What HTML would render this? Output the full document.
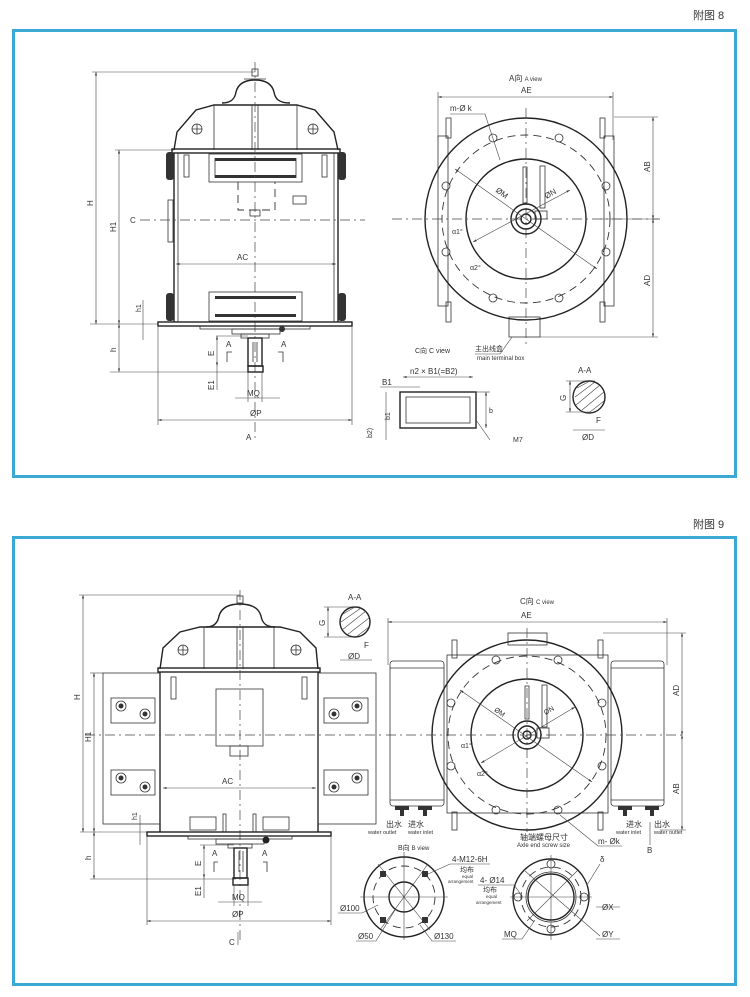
<!DOCTYPE html>
<html><head><meta charset="utf-8"><style>
html,body{margin:0;padding:0;background:#fff}
svg{display:block}
text{font-family:"Liberation Sans","Noto Sans CJK SC",sans-serif;fill:#333}
.m{stroke:#222;stroke-width:1.4;fill:none}
.t{stroke:#333;stroke-width:0.8;fill:none}
.d{stroke:#444;stroke-width:0.6;fill:none}
.c{stroke:#444;stroke-width:0.7;fill:none;stroke-dasharray:10 4 2 4}
.dash{stroke:#333;stroke-width:0.9;fill:none;stroke-dasharray:8 5}
</style></head><body>
<svg width="750" height="997" viewBox="0 0 750 997" xmlns="http://www.w3.org/2000/svg">
<defs>
<marker id="a" viewBox="0 0 10 10" refX="10" refY="5" markerWidth="6" markerHeight="6" orient="auto-start-reverse"><path d="M0,2 L10,5 L0,8z" fill="#333"/></marker>
</defs>
<text x="693" y="19" font-size="11">附图 8</text>
<rect x="13.5" y="30.5" width="722" height="446" fill="none" stroke="#3aa9d4" stroke-width="3"/>
<text x="693" y="528" font-size="11">附图 9</text>
<rect x="13.5" y="537.5" width="722" height="447" fill="none" stroke="#3aa9d4" stroke-width="3"/>

<!-- ===== FIG 8 LEFT ===== -->
<g>
<line class="d" x1="92" y1="72" x2="255" y2="72"/>
<line class="d" x1="96" y1="72" x2="96" y2="324" marker-start="url(#a)" marker-end="url(#a)"/>
<text x="0" y="0" font-size="8" transform="translate(93,206) rotate(-90)">H</text>
<line class="d" x1="115" y1="150" x2="174" y2="150"/>
<line class="d" x1="119" y1="150" x2="119" y2="324" marker-start="url(#a)" marker-end="url(#a)"/>
<text font-size="8" transform="translate(116,232) rotate(-90)">H1</text>
<line class="d" x1="90" y1="324" x2="158" y2="324"/>
<line class="d" x1="119" y1="324" x2="119" y2="372" marker-start="url(#a)" marker-end="url(#a)"/>
<text font-size="8" transform="translate(116,352) rotate(-90)">h</text>
<line class="d" x1="110" y1="372" x2="250" y2="372"/>
<line class="d" x1="143" y1="300" x2="143" y2="340"/>
<text font-size="7" transform="translate(141,312) rotate(-90)">h1</text>
<!-- knob & dome -->
<rect class="t" x="252" y="69" width="6" height="7"/>
<path class="m" d="M222,103 C232,103 235,98 236,92 C238,84 244,80 255,80 C266,80 272,84 274,92 C275,98 278,103 290,103"/>
<line class="t" x1="244" y1="79" x2="266" y2="79"/>
<!-- hood -->
<path class="m" d="M174,150 L177,132 L196,110 L214,105 L297,105 L315,110 L334,132 L338,150"/>
<line class="t" x1="214" y1="105" x2="214" y2="150"/><line class="t" x1="297" y1="105" x2="297" y2="150"/>
<line class="t" x1="252" y1="105" x2="252" y2="150"/><line class="t" x1="258" y1="105" x2="258" y2="150"/>
<circle class="t" cx="197" cy="129" r="5"/><circle class="t" cx="313" cy="129" r="5"/>
<path class="t" d="M192,129h10M197,124v10M308,129h10M313,124v10"/>
<!-- body -->
<rect class="m" x="172" y="149" width="168" height="4"/>
<line class="m" x1="174" y1="153" x2="174" y2="322"/><line class="m" x1="338" y1="153" x2="338" y2="322"/>
<line class="t" x1="178" y1="153" x2="178" y2="322"/><line class="t" x1="334" y1="153" x2="334" y2="322"/>
<rect x="166" y="152" width="8" height="28" rx="3" fill="#333"/><rect x="338" y="152" width="8" height="28" rx="3" fill="#333"/>
<rect x="166" y="293" width="8" height="28" rx="3" fill="#333"/><rect x="338" y="293" width="8" height="28" rx="3" fill="#333"/>
<rect class="t" x="168" y="200" width="5" height="42"/>
<rect class="t" x="184" y="155" width="5" height="22"/><rect class="t" x="322" y="155" width="5" height="22"/>
<rect class="t" x="209" y="154" width="93" height="28"/>
<rect x="215" y="158" width="81" height="3" fill="#333"/><rect x="215" y="175" width="81" height="3" fill="#333"/>
<line class="t" x1="215" y1="158" x2="215" y2="178"/><line class="t" x1="296" y1="158" x2="296" y2="178"/>
<path class="dash" d="M238,182 V210 H275 V182"/>
<rect class="t" x="250" y="210" width="10" height="6"/>
<rect class="t" x="293" y="196" width="13" height="8"/>
<line class="c" x1="140" y1="220" x2="365" y2="220"/>
<text x="130" y="223" font-size="8">C</text>
<line class="c" x1="255" y1="62" x2="255" y2="440"/>
<line class="d" x1="176" y1="264" x2="336" y2="264" marker-start="url(#a)" marker-end="url(#a)"/>
<text x="237" y="260" font-size="8">AC</text>
<rect class="t" x="209" y="292" width="93" height="29"/>
<rect x="215" y="296" width="81" height="3" fill="#333"/><rect x="215" y="314" width="81" height="3" fill="#333"/>
<!-- base -->
<rect class="m" x="158" y="322" width="194" height="4"/>
<rect class="t" x="200" y="326" width="110" height="3"/>
<rect class="t" x="232" y="329" width="48" height="5"/>
<circle cx="282" cy="329" r="3" fill="#333"/>
<rect class="t" x="241" y="334" width="28" height="4"/>
<rect class="m" x="248" y="338" width="14" height="28"/>
<line class="t" x1="253" y1="342" x2="253" y2="362"/><line class="t" x1="257" y1="342" x2="257" y2="362"/>
<rect class="m" x="248" y="366" width="15" height="6"/>
<line class="d" x1="158" y1="326" x2="158" y2="425"/><line class="d" x1="352" y1="326" x2="352" y2="425"/>
<line class="d" x1="158" y1="420" x2="352" y2="420" marker-start="url(#a)" marker-end="url(#a)"/>
<text x="250" y="416" font-size="8">ØP</text>
<line class="d" x1="235" y1="398" x2="280" y2="398"/>
<line class="d" x1="248" y1="372" x2="248" y2="402"/><line class="d" x1="262" y1="372" x2="262" y2="402"/>
<text x="247" y="396" font-size="8">MQ</text>
<line class="d" x1="216" y1="336" x2="248" y2="336"/>
<line class="d" x1="217" y1="336" x2="217" y2="366" marker-start="url(#a)" marker-end="url(#a)"/>
<line class="d" x1="217" y1="366" x2="217" y2="390" />
<text font-size="8" transform="translate(214,356) rotate(-90)">E</text>
<text font-size="8" transform="translate(214,390) rotate(-90)">E1</text>
<text x="226" y="347" font-size="8">A</text><text x="281" y="347" font-size="8">A</text>
<path class="t" d="M232,352h-5v10M278,352h5v10"/>
<text x="246" y="440" font-size="8">A</text>
</g>

<!-- ===== FIG 8 RIGHT (A view) ===== -->
<g>
<text x="509" y="81" font-size="8">A向 <tspan font-size="6">A view</tspan></text>
<text x="521" y="93" font-size="8">AE</text>
<line class="d" x1="438" y1="92" x2="438" y2="140"/><line class="d" x1="613" y1="92" x2="613" y2="140"/>
<line class="d" x1="438" y1="97" x2="613" y2="97" marker-start="url(#a)" marker-end="url(#a)"/>
<rect class="t" x="438" y="136" width="10" height="170"/><rect class="t" x="604" y="136" width="10" height="170"/>
<rect class="t" x="446" y="118" width="5" height="20"/><rect class="t" x="600" y="118" width="5" height="20"/>
<rect class="t" x="446" y="302" width="5" height="20"/><rect class="t" x="600" y="302" width="5" height="20"/>
<rect class="t" x="509" y="317" width="31" height="20" fill="#fff"/>
<circle class="m" cx="526" cy="219" r="101" fill="#fff"/>
<circle class="dash" cx="526" cy="219" r="84"/>
<circle class="m" cx="526" cy="219" r="60"/>
<g class="t" fill="#fff">
<circle cx="493" cy="138" r="4"/><circle cx="559" cy="138" r="4"/>
<circle cx="446" cy="186" r="4"/><circle cx="606" cy="186" r="4"/>
<circle cx="446" cy="252" r="4"/><circle cx="606" cy="252" r="4"/>
<circle cx="493" cy="298" r="4"/><circle cx="559" cy="298" r="4"/>
</g>
<line class="c" x1="392" y1="219" x2="660" y2="219"/>
<line class="c" x1="526" y1="108" x2="526" y2="345"/>
<circle class="m" cx="526" cy="219" r="15"/><circle class="m" cx="526" cy="219" r="10"/><circle class="m" cx="526" cy="219" r="5"/>
<rect class="t" x="523" y="167" width="4" height="36"/>
<rect class="t" x="540" y="166" width="5" height="42"/>
<rect class="t" x="535" y="211" width="12" height="8"/>
<line class="d" x1="455" y1="169" x2="597" y2="269" marker-start="url(#a)" marker-end="url(#a)"/>
<line class="d" x1="473" y1="242" x2="570" y2="190" marker-start="url(#a)" marker-end="url(#a)"/>
<text x="494" y="195" font-size="8" transform="rotate(35 500 195)">ØM</text>
<text x="546" y="197" font-size="8" transform="rotate(-30 550 197)">ØN</text>
<text x="452" y="234" font-size="7">α1°</text><text x="470" y="270" font-size="7">α2°</text>
<text x="450" y="111" font-size="8">m-Ø k</text>
<path class="d" d="M450,114 H485 L500,160"/>
<line class="d" x1="614" y1="117" x2="658" y2="117"/><line class="d" x1="540" y1="337" x2="658" y2="337"/>
<line class="d" x1="600" y1="219" x2="658" y2="219"/>
<line class="d" x1="653" y1="117" x2="653" y2="219" marker-start="url(#a)" marker-end="url(#a)"/>
<line class="d" x1="653" y1="219" x2="653" y2="337" marker-start="url(#a)" marker-end="url(#a)"/>
<text font-size="8" transform="translate(650,172) rotate(-90)">AB</text>
<text font-size="8" transform="translate(650,286) rotate(-90)">AD</text>
<text x="415" y="353" font-size="7">C向 C view</text>
<text x="475" y="351" font-size="7">主出线盒</text>
<text x="477" y="360" font-size="6">main terminal box</text>
<path class="d" d="M475,354 H500 L512,337"/>
<!-- C view rect -->
<text x="382" y="385" font-size="8">B1</text>
<text x="410" y="374" font-size="8">n2 × B1(=B2)</text>
<line class="d" x1="403" y1="377" x2="473" y2="377" marker-start="url(#a)" marker-end="url(#a)"/>
<line class="d" x1="380" y1="387" x2="420" y2="387"/>
<rect class="m" x="400" y="392" width="76" height="36"/>
<rect class="t" x="406" y="397" width="64" height="26"/>
<line class="d" x1="474" y1="392" x2="490" y2="392"/><line class="d" x1="486" y1="392" x2="486" y2="428" marker-start="url(#a)" marker-end="url(#a)"/>
<text x="489" y="413" font-size="7">b</text>
<line class="d" x1="386" y1="392" x2="386" y2="440"/>
<text font-size="7" transform="translate(390,420) rotate(-90)">b1</text>
<text font-size="7" transform="translate(372,438) rotate(-90)">b2)</text>
<line class="d" x1="476" y1="420" x2="490" y2="440"/>
<text x="513" y="442" font-size="7">M7</text>
<!-- A-A -->
<text x="578" y="373" font-size="8">A-A</text>
<circle class="m" cx="589" cy="397" r="16" fill="#e9e9e9"/>
<path class="d" d="M577,388 L590,381 M575,397 L595,382 M576,405 L600,385 M582,410 L604,392 M590,412 L604,401"/>
<line class="d" x1="566" y1="381" x2="595" y2="381"/><line class="d" x1="566" y1="412" x2="590" y2="412"/>
<line class="d" x1="570" y1="381" x2="570" y2="412" marker-start="url(#a)" marker-end="url(#a)"/>
<text font-size="8" transform="translate(566,401) rotate(-90)">G</text>
<text x="596" y="423" font-size="8">F</text>
<line class="d" x1="573" y1="430" x2="605" y2="430"/>
<text x="582" y="440" font-size="8">ØD</text>
</g>

<!-- ===== FIG 9 LEFT ===== -->
<g>
<line class="d" x1="79" y1="595" x2="240" y2="595"/>
<line class="d" x1="83" y1="595" x2="83" y2="832" marker-start="url(#a)" marker-end="url(#a)"/>
<text font-size="8" transform="translate(80,700) rotate(-90)">H</text>
<line class="d" x1="90" y1="673" x2="103" y2="673"/>
<line class="d" x1="94" y1="673" x2="94" y2="832" marker-start="url(#a)" marker-end="url(#a)"/>
<text font-size="8" transform="translate(91,742) rotate(-90)">H1</text>
<line class="d" x1="80" y1="832" x2="147" y2="832"/>
<line class="d" x1="94" y1="832" x2="94" y2="879" marker-start="url(#a)" marker-end="url(#a)"/>
<text font-size="8" transform="translate(91,860) rotate(-90)">h</text>
<line class="d" x1="90" y1="879" x2="236" y2="879"/>
<line class="d" x1="140" y1="815" x2="140" y2="845"/>
<text font-size="7" transform="translate(137,820) rotate(-90)">h1</text>
<rect class="t" x="237" y="596" width="6" height="7"/>
<path class="m" d="M206,627 C215,627 218,622 219,616 C221,609 227,604 240,604 C253,604 259,609 261,616 C262,622 265,627 275,627"/>
<path class="m" d="M160,669 L163,648 L180,632 L200,627 L280,627 L300,632 L316,648 L318,669"/>
<line class="t" x1="204" y1="627" x2="204" y2="669"/><line class="t" x1="274" y1="627" x2="274" y2="669"/>
<line class="t" x1="237" y1="627" x2="237" y2="669"/><line class="t" x1="243" y1="627" x2="243" y2="669"/>
<circle class="t" cx="183" cy="650" r="5"/><circle class="t" cx="296" cy="650" r="5"/>
<path class="t" d="M178,650h10M183,645v10M291,650h10M296,645v10"/>
<rect class="m" x="158" y="668" width="162" height="4"/>
<line class="m" x1="160" y1="672" x2="160" y2="832"/><line class="m" x1="318" y1="672" x2="318" y2="832"/>
<rect class="t" x="103" y="673" width="57" height="151"/><rect class="t" x="318" y="673" width="58" height="151"/>
<rect class="t" x="111" y="698" width="44" height="25"/><rect class="t" x="111" y="770" width="44" height="25"/>
<rect class="t" x="324" y="698" width="44" height="25"/><rect class="t" x="324" y="770" width="44" height="25"/>
<g fill="#333">
<circle cx="121" cy="706" r="2.5"/><circle cx="145" cy="714" r="2.5"/><circle cx="121" cy="778" r="2.5"/><circle cx="145" cy="787" r="2.5"/>
<circle cx="357" cy="706" r="2.5"/><circle cx="334" cy="714" r="2.5"/><circle cx="357" cy="778" r="2.5"/><circle cx="334" cy="787" r="2.5"/>
</g>
<g class="t">
<circle cx="121" cy="706" r="5"/><circle cx="145" cy="714" r="5"/><circle cx="121" cy="778" r="5"/><circle cx="145" cy="787" r="5"/>
<circle cx="357" cy="706" r="5"/><circle cx="334" cy="714" r="5"/><circle cx="357" cy="778" r="5"/><circle cx="334" cy="787" r="5"/>
</g>
<rect class="t" x="171" y="677" width="5" height="22"/><rect class="t" x="302" y="677" width="5" height="22"/>
<rect class="t" x="216" y="689" width="47" height="57"/>
<rect class="t" x="230" y="746" width="18" height="10"/>
<line class="c" x1="85" y1="735" x2="385" y2="735"/>
<line class="c" x1="240" y1="590" x2="240" y2="940"/>
<line class="d" x1="163" y1="788" x2="316" y2="788" marker-start="url(#a)" marker-end="url(#a)"/>
<text x="222" y="784" font-size="8">AC</text>
<rect class="t" x="190" y="817" width="26" height="13"/><rect class="t" x="263" y="817" width="26" height="13"/>
<rect class="t" x="223" y="814" width="3" height="18"/><rect class="t" x="253" y="814" width="3" height="18"/>
<rect class="m" x="147" y="832" width="184" height="4"/>
<rect class="t" x="188" y="836" width="104" height="3"/>
<rect class="t" x="216" y="839" width="48" height="5"/>
<circle cx="266" cy="840" r="3.5" fill="#222"/>
<rect class="t" x="228" y="844" width="24" height="4"/>
<rect class="m" x="234" y="848" width="13" height="30"/>
<line class="t" x1="239" y1="851" x2="239" y2="872"/><line class="t" x1="243" y1="851" x2="243" y2="872"/>
<rect class="m" x="233" y="878" width="15" height="7"/>
<line class="d" x1="147" y1="836" x2="147" y2="925"/><line class="d" x1="331" y1="836" x2="331" y2="925"/>
<line class="d" x1="147" y1="921" x2="331" y2="921" marker-start="url(#a)" marker-end="url(#a)"/>
<text x="232" y="917" font-size="8">ØP</text>
<line class="d" x1="218" y1="902" x2="262" y2="902"/>
<line class="d" x1="234" y1="885" x2="234" y2="906"/><line class="d" x1="248" y1="885" x2="248" y2="906"/>
<text x="232" y="900" font-size="8">MQ</text>
<line class="d" x1="200" y1="845" x2="234" y2="845"/>
<line class="d" x1="204" y1="845" x2="204" y2="878" marker-start="url(#a)" marker-end="url(#a)"/>
<line class="d" x1="204" y1="878" x2="204" y2="898"/>
<text font-size="8" transform="translate(201,866) rotate(-90)">E</text>
<text font-size="8" transform="translate(201,896) rotate(-90)">E1</text>
<text x="212" y="856" font-size="8">A</text><text x="262" y="856" font-size="8">A</text>
<path class="t" d="M218,862h-4v10M263,862h4v10"/>
<text x="229" y="945" font-size="8">C</text>
<line class="d" x1="238" y1="932" x2="238" y2="945"/>
<!-- A-A -->
<text x="348" y="600" font-size="8">A-A</text>
<circle class="m" cx="355" cy="622" r="15" fill="#e9e9e9"/>
<path class="d" d="M343,614 L355,607 M341,622 L361,608 M342,630 L366,611 M347,635 L369,618 M356,637 L369,627"/>
<line class="d" x1="324" y1="607" x2="360" y2="607"/><line class="d" x1="324" y1="637" x2="355" y2="637"/>
<line class="d" x1="328" y1="607" x2="328" y2="637" marker-start="url(#a)" marker-end="url(#a)"/>
<text font-size="8" transform="translate(325,626) rotate(-90)">G</text>
<text x="364" y="648" font-size="8">F</text>
<line class="d" x1="340" y1="660" x2="372" y2="660"/>
<text x="348" y="659" font-size="8">ØD</text>
</g>

<!-- ===== FIG 9 RIGHT (C view) ===== -->
<g>
<text x="520" y="604" font-size="8">C向 <tspan font-size="6">C view</tspan></text>
<text x="521" y="618" font-size="8">AE</text>
<line class="d" x1="388" y1="618" x2="388" y2="665"/><line class="d" x1="667" y1="618" x2="667" y2="665"/>
<line class="d" x1="388" y1="622" x2="667" y2="622" marker-start="url(#a)" marker-end="url(#a)"/>
<rect class="t" x="508" y="633" width="39" height="12"/>
<rect class="t" x="447" y="655" width="161" height="158"/>
<rect class="t" x="452" y="640" width="5" height="18"/><rect class="t" x="598" y="640" width="5" height="18"/>
<rect class="t" x="452" y="812" width="5" height="18"/><rect class="t" x="598" y="812" width="5" height="18"/>
<rect class="t" x="390" y="661" width="54" height="145" rx="3"/>
<line class="t" x1="390" y1="668" x2="444" y2="668"/><line class="t" x1="390" y1="800" x2="444" y2="800"/>
<rect class="t" x="611" y="661" width="53" height="145" rx="3"/>
<line class="t" x1="611" y1="668" x2="664" y2="668"/><line class="t" x1="611" y1="800" x2="664" y2="800"/>
<g fill="#333">
<rect x="395" y="806" width="14" height="4"/><rect x="418" y="806" width="14" height="4"/>
<rect x="618" y="806" width="14" height="4"/><rect x="645" y="806" width="14" height="4"/>
<rect x="400" y="810" width="4" height="6"/><rect x="423" y="810" width="4" height="6"/>
<rect x="623" y="810" width="4" height="6"/><rect x="650" y="810" width="4" height="6"/>
</g>
<circle class="m" cx="527" cy="735" r="95" fill="#fff"/>
<circle class="dash" cx="527" cy="735" r="79"/>
<circle class="m" cx="527" cy="735" r="56"/>
<g class="t" fill="#fff">
<circle cx="496" cy="660" r="4"/><circle cx="558" cy="660" r="4"/>
<circle cx="451" cy="703" r="4"/><circle cx="602" cy="703" r="4"/>
<circle cx="451" cy="766" r="4"/><circle cx="602" cy="766" r="4"/>
<circle cx="496" cy="810" r="4"/><circle cx="558" cy="810" r="4"/>
</g>
<line class="c" x1="386" y1="735" x2="685" y2="735"/>
<line class="c" x1="527" y1="628" x2="527" y2="832"/>
<circle class="m" cx="527" cy="735" r="14"/><circle class="m" cx="527" cy="735" r="9"/><circle class="m" cx="527" cy="735" r="4"/>
<rect class="t" x="525" y="686" width="4" height="33"/>
<rect class="t" x="542" y="685" width="5" height="42"/>
<rect class="t" x="537" y="728" width="12" height="10"/>
<line class="d" x1="460" y1="690" x2="592" y2="782" marker-start="url(#a)" marker-end="url(#a)"/>
<line class="d" x1="481" y1="763" x2="575" y2="707" marker-start="url(#a)" marker-end="url(#a)"/>
<text x="493" y="713" font-size="7" transform="rotate(35 497 713)">ØM</text>
<text x="545" y="713" font-size="7" transform="rotate(-30 549 713)">ØN</text>
<text x="461" y="748" font-size="7">α1°</text><text x="477" y="776" font-size="7">α2°</text>
<line class="d" x1="603" y1="633" x2="686" y2="633"/><line class="d" x1="660" y1="830" x2="686" y2="830"/>
<line class="d" x1="682" y1="633" x2="682" y2="735" marker-start="url(#a)" marker-end="url(#a)"/>
<line class="d" x1="682" y1="735" x2="682" y2="830" marker-start="url(#a)" marker-end="url(#a)"/>
<text font-size="8" transform="translate(679,696) rotate(-90)">AD</text>
<text font-size="8" transform="translate(679,794) rotate(-90)">AB</text>
<text x="386" y="827" font-size="8">出水</text><text x="408" y="827" font-size="8">进水</text>
<text x="368" y="834" font-size="5.5">water outlet</text><text x="408" y="834" font-size="5.5">water inlet</text>
<text x="626" y="827" font-size="8">进水</text><text x="654" y="827" font-size="8">出水</text>
<text x="616" y="834" font-size="5.5">water inlet</text><text x="654" y="834" font-size="5.5">water outlet</text>
<line class="d" x1="650" y1="822" x2="650" y2="845"/>
<text x="647" y="853" font-size="8">B</text>
<text x="520" y="840" font-size="8">轴端螺母尺寸</text>
<text x="517" y="847" font-size="6">Axle end screw size</text>
<text x="598" y="844" font-size="8">m- Øk</text>
<path class="d" d="M622,846 H598 L560,815"/>
<!-- B view -->
<text x="398" y="850" font-size="7">B向 <tspan font-size="6">B view</tspan></text>
<circle class="m" cx="404" cy="897" r="40"/>
<circle class="dash" cx="404" cy="897" r="31"/>
<circle class="m" cx="404" cy="897" r="15"/>
<line class="d" x1="360" y1="897" x2="448" y2="897"/><line class="d" x1="404" y1="852" x2="404" y2="940"/>
<line class="d" x1="380" y1="930" x2="428" y2="864"/><line class="d" x1="378" y1="864" x2="430" y2="930"/>
<g fill="#333"><rect x="380" y="871" width="6" height="6"/><rect x="422" y="871" width="6" height="6"/><rect x="380" y="917" width="6" height="6"/><rect x="422" y="917" width="6" height="6"/></g>
<text x="452" y="862" font-size="8">4-M12-6H</text>
<line class="d" x1="450" y1="864" x2="490" y2="864"/>
<line class="d" x1="450" y1="864" x2="428" y2="874"/>
<text x="460" y="872" font-size="7">均布</text>
<text x="462" y="878" font-size="4.5">equal</text><text x="448" y="883" font-size="4.5">arrangement</text>
<text x="340" y="911" font-size="8">Ø100</text><line class="d" x1="338" y1="913" x2="362" y2="913"/><line class="d" x1="362" y1="913" x2="378" y2="905"/>
<text x="358" y="939" font-size="8">Ø50</text><line class="d" x1="356" y1="941" x2="376" y2="941"/><line class="d" x1="376" y1="941" x2="395" y2="910"/>
<text x="434" y="939" font-size="8">Ø130</text><line class="d" x1="432" y1="941" x2="456" y2="941"/><line class="d" x1="432" y1="941" x2="420" y2="925"/>
<!-- right circle -->
<circle class="m" cx="551" cy="897" r="38"/>
<circle class="dash" cx="551" cy="897" r="30"/>
<circle class="m" cx="551" cy="897" r="23"/>
<circle class="t" cx="551" cy="897" r="25"/>
<line class="d" x1="510" y1="897" x2="592" y2="897"/><line class="d" x1="551" y1="855" x2="551" y2="940"/>
<line class="d" x1="525" y1="871" x2="600" y2="936"/><line class="d" x1="527" y1="921" x2="578" y2="870"/>
<g class="t" fill="#fff"><circle cx="551" cy="864" r="4"/><circle cx="584" cy="897" r="4"/><circle cx="551" cy="929" r="4"/><circle cx="518" cy="897" r="4"/></g>
<text x="480" y="883" font-size="8">4- Ø14</text><line class="d" x1="478" y1="885" x2="514" y2="885"/><line class="d" x1="514" y1="885" x2="520" y2="893"/>
<text x="483" y="892" font-size="7">均布</text>
<text x="486" y="898" font-size="4.5">equal</text><text x="476" y="904" font-size="4.5">arrangement</text>
<text x="600" y="862" font-size="8">δ</text><line class="d" x1="600" y1="864" x2="587" y2="885"/>
<text x="602" y="910" font-size="8">ØX</text><line class="d" x1="596" y1="907" x2="620" y2="907"/>
<text x="602" y="937" font-size="8">ØY</text><line class="d" x1="596" y1="939" x2="620" y2="939"/>
<text x="504" y="937" font-size="8">MQ</text><line class="d" x1="502" y1="939" x2="522" y2="939"/><line class="d" x1="522" y1="939" x2="535" y2="920"/>
</g>
</svg>
</body></html>
